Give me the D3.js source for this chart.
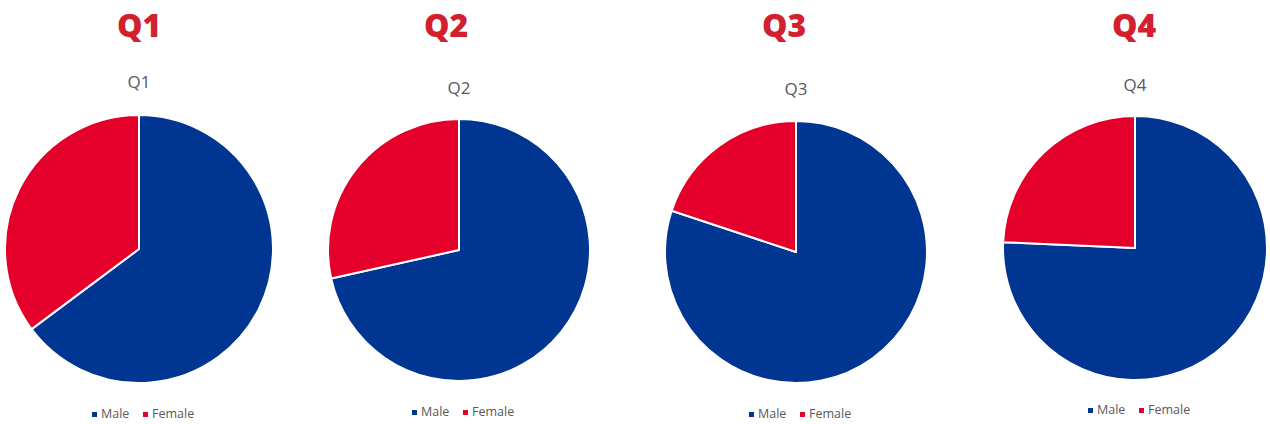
<!DOCTYPE html>
<html>
<head>
<meta charset="utf-8">
<script src="https://cdn.jsdelivr.net/npm/d3@7"></script>
<style>
  body { margin: 0; background: #fff; }
  svg { display: block; }
</style>
</head>
<body>
<svg id="chart" width="1270" height="424"></svg>
<script>
// data
const quarters = ["Q1", "Q2", "Q3", "Q4"];
const genders = ["Male", "Female"];
const maleShare = [64.8, 71.5, 80.1, 75.7];
const femaleShare = [35.2, 28.5, 19.9, 24.3];

const color = d3.scaleOrdinal().domain(genders).range(["#003591", "#e4002b"]);

// layout of each panel (centre, radius, text rows)
const panels = [
  { cx: 139, cy: 249, r: 134, sub: 88, leg: 418 },
  { cx: 459, cy: 250, r: 131, sub: 94, leg: 416 },
  { cx: 796, cy: 252, r: 131, sub: 95, leg: 418 },
  { cx: 1135, cy: 248, r: 132, sub: 91, leg: 414 }
];
const titleX = [139, 446, 784, 1134];

const svg = d3.select("#chart");

const pie = d3.pie().sort(null).value(d => d.value);

quarters.forEach((q, i) => {
  const p = panels[i];
  const data = [
    { key: "Male", value: maleShare[i] },
    { key: "Female", value: femaleShare[i] }
  ];

  // big title
  svg.append("text")
    .attr("x", titleX[i])
    .attr("y", 37)
    .attr("text-anchor", "middle")
    .style("font-family", "'Open Sans', sans-serif")
    .style("font-weight", 800)
    .style("font-size", "32px")
    .attr("fill", "#d2202f")
    .text(q);

  // chart title
  svg.append("text")
    .attr("x", p.cx)
    .attr("y", p.sub)
    .attr("text-anchor", "middle")
    .style("font-family", "'Open Sans', sans-serif")
    .style("font-size", "17px")
    .attr("fill", "#595959")
    .text(q);

  const arc = d3.arc().innerRadius(0).outerRadius(p.r);

  const g = svg.append("g")
    .attr("transform", `translate(${p.cx},${p.cy})`);

  g.selectAll("path")
    .data(pie(data))
    .enter().append("path")
    .attr("d", arc)
    .attr("fill", d => color(d.data.key))
    .attr("stroke", "#fff")
    .attr("stroke-width", 2)
    .attr("stroke-linejoin", "round");

  // legend
  const legend = svg.append("g")
    .attr("transform", `translate(${p.cx - 47},${p.leg})`);

  const items = legend.selectAll("g")
    .data(genders)
    .enter().append("g")
    .attr("transform", (d, j) => `translate(${j * 51},0)`);

  items.append("rect")
    .attr("x", 0)
    .attr("y", -6)
    .attr("width", 5)
    .attr("height", 5)
    .attr("fill", d => color(d));

  items.append("text")
    .attr("x", 9)
    .attr("y", 0)
    .style("font-family", "'Open Sans', sans-serif")
    .style("font-size", "12.5px")
    .attr("fill", "#595959")
    .text(d => d);
});
</script>
</body>
</html>
